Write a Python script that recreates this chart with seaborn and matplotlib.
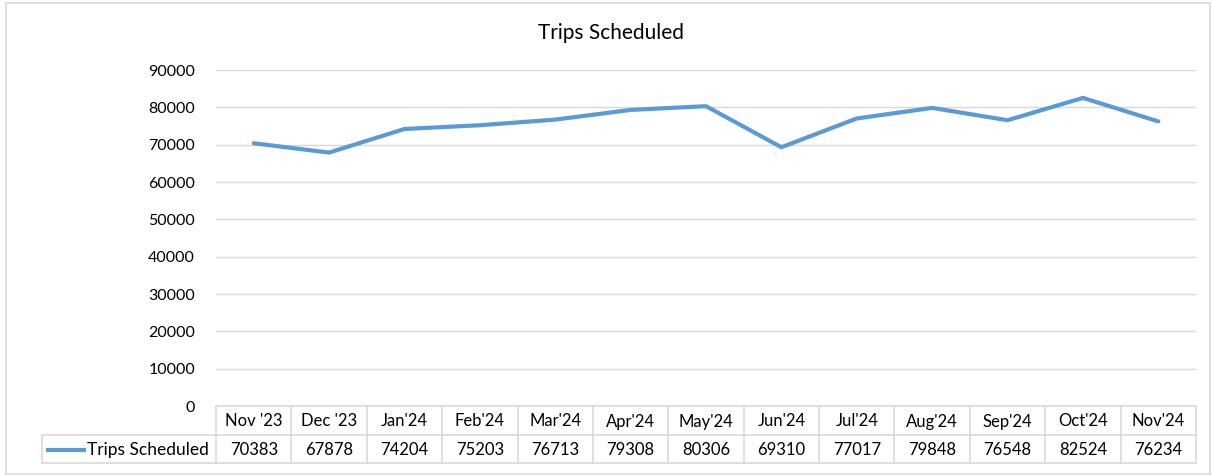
import numpy as np
import pandas as pd
import matplotlib
matplotlib.use("Agg")
import matplotlib.pyplot as plt
import seaborn as sns
from matplotlib.patches import Rectangle

months = ["Nov '23", "Dec '23", "Jan'24", "Feb'24", "Mar'24", "Apr'24", "May'24",
          "Jun'24", "Jul'24", "Aug'24", "Sep'24", "Oct'24", "Nov'24"]
trips = [70383, 67878, 74204, 75203, 76713, 79308, 80306,
         69310, 77017, 79848, 76548, 82524, 76234]
series_name = "Trips Scheduled"
y_ticks = list(range(0, 90001, 10000))

df = pd.DataFrame({"month": months, "trips": trips})
df["pos"] = np.arange(len(df))

sns.set_style("white")
plt.rcParams["font.family"] = ["Lato", "DejaVu Sans"]

W, H = 1213, 476
fig = plt.figure(figsize=(W / 100, H / 100), dpi=100)
line_col = "#5b9bd5"
grid_col = "#d9d9d9"
txt_col = "#000000"
fs = 12


def fx(px):
    return px / W


def fy(py):
    return 1 - py / H


# rand rundt hele diagrammet
fig.patches.append(Rectangle((fx(6), fy(474)), fx(1210) - fx(6), fy(3) - fy(474),
                             transform=fig.transFigure, fill=False,
                             edgecolor=grid_col, linewidth=1.2))

# plotteområde
left, right, top, bottom = 216, 1196, 70, 406
ax = fig.add_axes([fx(left), fy(bottom), fx(right) - fx(left), fy(top) - fy(bottom)])
sns.lineplot(data=df, x="pos", y="trips", ax=ax, color=line_col, linewidth=3)
ax.set_xlim(-0.5, len(months) - 0.5)
ax.set_ylim(0, 90000)
ax.set_yticks(y_ticks)
ax.set_yticklabels([str(v) for v in y_ticks], fontsize=11.5, color=txt_col)
ax.set_xticks([])
ax.set_xlabel("")
ax.set_ylabel("")
ax.tick_params(axis="y", length=0, pad=15)
for s in ax.spines.values():
    s.set_visible(False)
for v in y_ticks[1:]:
    ax.axhline(v, color=grid_col, linewidth=1, zorder=0)
ax.patch.set_alpha(0)

fig.text(fx(611), fy(33), "Trips Scheduled", ha="center", va="center",
         fontsize=15, color=txt_col)

# datatabell under plottet
row1, row2, row3 = 406, 435, 463
tleft = 42
tab = fig.add_axes([0, 0, 1, 1], facecolor="none")
tab.set_xlim(0, W)
tab.set_ylim(H, 0)
tab.axis("off")
n = len(months)
xs = np.linspace(left, right, n + 1)
tab.plot([left, right], [row1, row1], color=grid_col, lw=1.2)
tab.plot([tleft, right], [row2, row2], color=grid_col, lw=1.2)
tab.plot([tleft, right], [row3, row3], color=grid_col, lw=1.2)
tab.plot([tleft, tleft], [row2, row3], color=grid_col, lw=1.2)
for x in xs:
    tab.plot([x, x], [row1, row3], color=grid_col, lw=1.2)
for i in range(n):
    cx = (xs[i] + xs[i + 1]) / 2
    tab.text(cx, (row1 + row2) / 2 + 1, months[i], ha="center", va="center",
             fontsize=fs, color=txt_col)
    tab.text(cx, (row2 + row3) / 2 + 1, str(trips[i]), ha="center", va="center",
             fontsize=fs, color=txt_col)
tab.plot([46, 86], [(row2 + row3) / 2 + 1] * 2, color=line_col, lw=3,
         solid_capstyle="butt")
tab.text(87, (row2 + row3) / 2 + 1, series_name, ha="left", va="center",
         fontsize=12.5, color=txt_col)

fig.savefig("out.png", dpi=100)
